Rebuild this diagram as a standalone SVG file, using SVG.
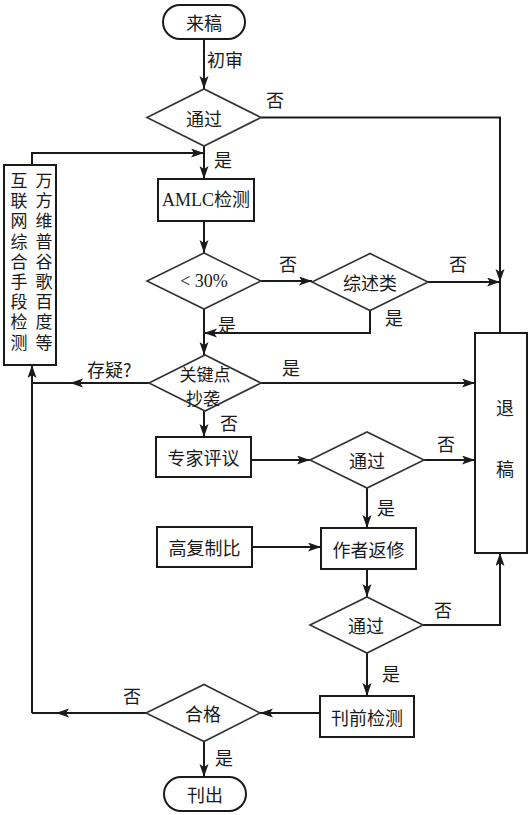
<svg xmlns="http://www.w3.org/2000/svg" width="531" height="815" viewBox="0 0 531 815">
<defs>
<style>
.n{fill:#fff;stroke:#1a1a1a;stroke-width:2}
.d{fill:#fff;stroke:#333;stroke-width:1.6}
.c{fill:none;stroke:#1a1a1a;stroke-width:2}
.a{marker-end:url(#ah)}
text{font-family:"Noto Sans CJK SC","Liberation Sans",sans-serif;font-size:18px;fill:#1a1a1a}
.t{text-anchor:middle;dominant-baseline:central}
.k{font-size:17px}
.v{font-size:17px;writing-mode:vertical-rl;letter-spacing:3.2px}
</style>
<marker id="ah" markerUnits="userSpaceOnUse" markerWidth="14" markerHeight="10" refX="13" refY="4.5" orient="auto">
<path d="M0,0 L13,4.5 L0,9 L3,4.5 z" fill="#1a1a1a"/>
</marker>
</defs>
<rect width="531" height="815" fill="#fff"/>

<g id="connectors">
<path class="c a" d="M204,39 V89"/>
<path class="c a" d="M261,117.5 H500 V282"/>
<path class="c" d="M500,282 V333"/>
<path class="c a" d="M204,146 V179"/>
<path class="c a" d="M32,165 V153 H204"/>
<path class="c a" d="M204,221 V253"/>
<path class="c a" d="M261,281 H312"/>
<path class="c a" d="M428,282 H500"/>
<path class="c a" d="M370,310.5 V333 H204"/>
<path class="c a" d="M204,309 V355"/>
<path class="c a" d="M149,383 H70"/>
<path class="c" d="M70,383 H32"/>
<path class="c a" d="M32,713 V365"/>
<path class="c a" d="M261,383 H475"/>
<path class="c a" d="M204,411 V437"/>
<path class="c a" d="M251,460 H310"/>
<path class="c a" d="M424,460 H475"/>
<path class="c a" d="M367,488 V528"/>
<path class="c a" d="M252,547 H321"/>
<path class="c a" d="M367,569 V597"/>
<path class="c a" d="M423,625 H500 V553"/>
<path class="c a" d="M367,653 V696"/>
<path class="c a" d="M320,713 H260"/>
<path class="c a" d="M146,713 H56"/>
<path class="c" d="M56,713 H32"/>
<path class="c a" d="M204,741.5 V777"/>
</g>

<g id="labels">
<text x="207" y="67">初审</text>
<text x="266" y="107">否</text>
<text x="214" y="167">是</text>
<text x="279" y="271">否</text>
<text x="449" y="271">否</text>
<text x="385" y="325">是</text>
<text x="218" y="332">是</text>
<text x="87" y="377">存疑?</text>
<text x="282" y="375">是</text>
<text x="220" y="430">否</text>
<text x="437" y="451">否</text>
<text x="377" y="515">是</text>
<text x="434" y="617">否</text>
<text x="382" y="681">是</text>
<text x="123" y="703">否</text>
<text x="215" y="765">是</text>
</g>

<g id="n_start"><rect class="n" x="163" y="5" width="82" height="34" rx="17"/><text class="t" x="204" y="22">来稿</text></g>
<g id="n_pass1"><polygon class="d" points="147,117.5 204,89 261,117.5 204,146"/><text class="t" x="204" y="117.5">通过</text></g>
<g id="n_amlc"><rect class="n" x="158" y="179" width="96" height="42"/><text class="t" x="206" y="200" style="font-family:'Liberation Serif','Noto Sans CJK SC',serif">AMLC检测</text></g>
<g id="n_lt30"><polygon class="d" points="147,281 204,253 261,281 204,309"/><text class="t" x="204" y="281" style="font-family:'Liberation Serif','Noto Sans CJK SC',serif">&lt; 30%</text></g>
<g id="n_review"><polygon class="d" points="312,282 370,253.5 428,282 370,310.5"/><text class="t" x="370" y="282">综述类</text></g>
<g id="n_key"><polygon class="d" points="149,383 205,355 261,383 205,411"/><text class="t k"><tspan x="205" y="373">关键点</tspan><tspan x="203" y="397">抄袭</tspan></text></g>
<g id="n_expert"><rect class="n" x="156" y="437" width="95" height="40"/><text class="t" x="203.5" y="457">专家评议</text></g>
<g id="n_pass2"><polygon class="d" points="310,460 367,432 424,460 367,488"/><text class="t" x="367" y="460">通过</text></g>
<g id="n_high"><rect class="n" x="157" y="527" width="95" height="40"/><text class="t" x="204.5" y="547">高复制比</text></g>
<g id="n_revise"><rect class="n" x="321" y="528" width="95" height="41"/><text class="t" x="368.5" y="548.5">作者返修</text></g>
<g id="n_pass3"><polygon class="d" points="310,625 367,597 423,625 367,653"/><text class="t" x="366" y="625">通过</text></g>
<g id="n_precheck"><rect class="n" x="320" y="696" width="94" height="41"/><text class="t" x="367" y="716.5">刊前检测</text></g>
<g id="n_ok"><polygon class="d" points="146,713 204,684.5 260,713 204,741.5"/><text class="t" x="203" y="713">合格</text></g>
<g id="n_publish"><rect class="n" x="164" y="777" width="82" height="34" rx="17"/><text class="t" x="205" y="794">刊出</text></g>
<g id="n_reject"><rect class="n" x="475" y="333" width="52" height="220"/><text class="t" x="505" y="407">退</text><text class="t" x="505" y="468">稿</text></g>
<g id="n_web"><rect class="n" x="4" y="165" width="52" height="200"/>
<text class="v" x="19" y="172">互联网综合手段检测</text>
<text class="v" x="44" y="172">万方维普谷歌百度等</text>
</g>
</svg>
